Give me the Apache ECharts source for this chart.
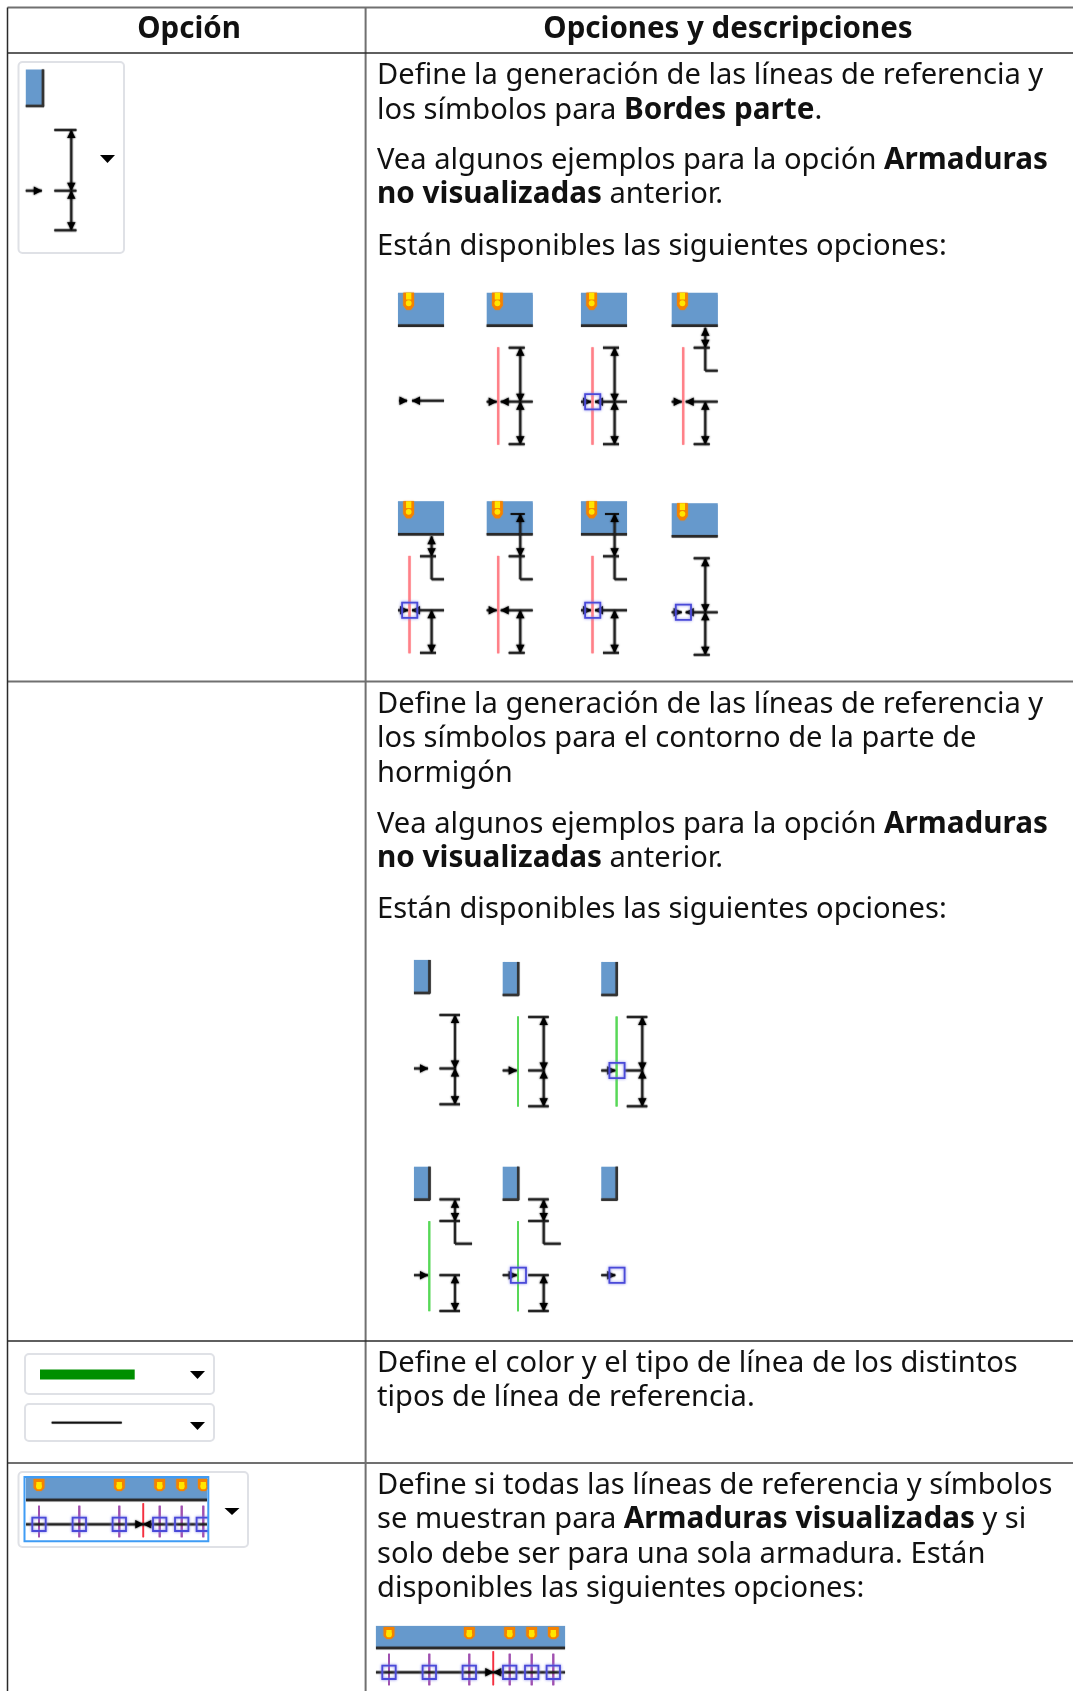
<!DOCTYPE html>
<html lang="es">
<head>
    <meta charset="UTF-8">
    <title>Opciones de líneas de referencia</title>
    <script src="https://cdn.jsdelivr.net/npm/echarts@6/dist/echarts.min.js"></script>
    <style>
        html, body { margin: 0; background: #fff; }
        #chart { width: 1073px; height: 1691px; }
    </style>
</head>
<body>
    <div id="chart"></div>
    <script>
        // texto de la tabla: [texto, x, y]
        const headerTexts = [['Opción', 189, 30], ['Opciones y descripciones', 728, 30]];
        const bodyTexts = [
            ['Define la generación de las líneas de referencia y', 75.5],
            ['los símbolos para {b|Bordes parte}.', 110.5],
            ['Vea algunos ejemplos para la opción {b|Armaduras}', 160.5],
            ['{b|no visualizadas} anterior.', 195],
            ['Están disponibles las siguientes opciones:', 246.5],
            ['Define la generación de las líneas de referencia y', 704.5],
            ['los símbolos para el contorno de la parte de', 739],
            ['hormigón', 773.5],
            ['Vea algunos ejemplos para la opción {b|Armaduras}', 824.5],
            ['{b|no visualizadas} anterior.', 859],
            ['Están disponibles las siguientes opciones:', 909.5],
            ['Define el color y el tipo de línea de los distintos', 1363.5],
            ['tipos de línea de referencia.', 1398],
            ['Define si todas las líneas de referencia y símbolos', 1485.5],
            ['se muestran para {b|Armaduras visualizadas} y si', 1520],
            ['solo debe ser para una sola armadura. Están', 1554.5],
            ['disponibles las siguientes opciones:', 1589]
        ];
        const darkRows = [53, 1341];
        const grayRows = [7.5, 681.5, 1463];
        const leftCol = 7.5;
        const splitCol = 365.6;

        // miniaturas: [izquierda, arriba, variante]
        const beamThumbs = [
            [398, 292.7, 'arrow'], [486.7, 292.7, 'ref'], [581, 292.7, 'refSquare'], [671.7, 292.7, 'upper'],
            [398, 501.3, 'upperSquare'], [486.7, 501.3, 'inner'], [581, 501.3, 'innerSquare'], [671.7, 503.3, 'square']
        ];
        const columnThumbs = [
            [414, 960, 'arrow'], [502.7, 962, 'ref'], [601.3, 962, 'refSquare'],
            [414, 1166.7, 'upper'], [502.7, 1166.7, 'upperSquare'], [601.3, 1166.7, 'squareOnly']
        ];
        // controles desplegables: [x1, y1, x2, y2]
        const widgetBoxes = [[18.5, 62, 124, 253], [25, 1354, 214, 1394], [25, 1404, 214, 1441], [18.5, 1472, 248, 1547]];
        const dropTriangles = [[107.5, 155, 163], [197.5, 1371, 1379], [197.5, 1422, 1430], [232, 1508, 1515]];
        // tiras de armaduras: [desplazamiento x, desplazamiento y, x final]
        const stripOrigins = [[0, 0, 207], [350, 148, 215]];
        const stripMarkers = [39, 119.3, 159.7, 181.7, 203.3];
        const stripSquares = [39, 79.3, 119.3, 159.7, 181.7, 203.3];

        const black = [], red = [], green = [], purple = [], thinBlack = [], stripRed = [], thick = [], edge = [];
        const heads = [], blue = [], squares = [], markers = [], smallMarkers = [], greenBars = [], strokeBoxes = [], masks = [];

        function headV(x, y, up) { heads.push([x, y, up ? 0 : 1]); }
        function headH(x, y, left) { heads.push([x, y, left ? 2 : 3]); }

        function fullDim(x, top, mid, bot, tickL, tickR) {
            black.push([x, top, x, bot], [tickL, top, tickR, top], [tickL, bot, tickR, bot]);
            headV(x, top, true); headV(x, mid, false); headV(x, mid, true); headV(x, bot, false);
        }
        function lowerDim(x, mid, bot, tickL, tickR) {
            black.push([x, mid, x, bot], [tickL, bot, tickR, bot]);
            headV(x, mid, true); headV(x, bot, false);
        }
        function square(cx, cy) { squares.push([cx - 7.6, cy - 7.6, cx + 7.6, cy + 7.6]); }

        function drawBeam(L, T, variant) {
            blue.push([L, T, L + 46, T + 32]);
            thick.push([L, T + 33, L + 46, T + 33]);
            markers.push([L + 10.7, T]);
            const mid = T + 109, bot = T + 151.5, dx = L + 33.6;
            if (variant === 'arrow') {
                black.push([L + 1, mid - 1, L + 9, mid - 1], [L + 14, mid - 1, L + 46, mid - 1]);
                headH(L + 9.5, mid - 1, false); headH(L + 14, mid - 1, true);
                return;
            }
            black.push([L, mid, L + 10, mid], [L + 14, mid, L + 46, mid]);
            headH(L + 10, mid, false); headH(L + 14, mid, true);
            if (variant !== 'square') red.push([L + 11.5, T + 54.6, L + 11.5, T + 152]);
            if (variant === 'refSquare' || variant === 'upperSquare' || variant === 'innerSquare' || variant === 'square') square(L + 11.7, mid);
            if (variant === 'ref' || variant === 'refSquare' || variant === 'square') {
                fullDim(dx, T + 55, mid, bot, L + 22, L + 38);
            } else {
                const inner = variant === 'inner' || variant === 'innerSquare';
                const top = inner ? T + 12.7 : T + 35;
                black.push([dx, top, dx, T + 78], [dx, T + 78, L + 46, T + 78], [L + 22, T + 55, L + 38, T + 55]);
                if (inner) thinBlack.push([L + 24, top, L + 38, top]);
                headV(dx, top, true); headV(dx, T + 55, false);
                lowerDim(dx, mid, bot, L + 22, L + 38);
            }
        }

        function columnStub(L, mid, tip) {
            black.push([L, mid, L + tip, mid]);
            headH(L + tip, mid, false);
        }
        function drawColumn(L, T, variant) {
            blue.push([L, T, L + 15, T + 32]);
            edge.push([L + 15.5, T, L + 15.5, T + 33.5], [L, T + 33, L + 16, T + 33]);
            const mid = T + 108.5, dx = L + 41, tl = L + 25.5, tr = L + 46;
            columnStub(L, mid, 14);
            if (variant === 'squareOnly') { square(L + 15.7, mid); return; }
            if (variant !== 'arrow') green.push([L + 15.3, T + 54.5, L + 15.3, T + 144.5]);
            if (variant === 'refSquare' || variant === 'upperSquare') square(L + 15.7, mid);
            if (variant === 'upper' || variant === 'upperSquare') {
                black.push([dx, T + 32.7, dx, T + 77], [dx, T + 77, L + 58, T + 77], [tl, T + 32.7, tr, T + 32.7], [tl, T + 54.3, tr, T + 54.3], [tl, mid, tr, mid]);
                headV(dx, T + 33, true); headV(dx, T + 54.3, false);
                lowerDim(dx, mid, T + 144.3, tl, tr);
            } else {
                black.push([variant === 'refSquare' ? L + 23 : tl, mid, dx, mid]);
                fullDim(dx, T + 55, mid, T + 144.3, tl, tr);
            }
        }

        function drawStrip(dx, dy, endX) {
            const x1 = 26 + dx, x2 = endX + dx;
            blue.push([x1, 1478 + dy, x2, 1499 + dy]);
            thick.push([x1, 1500 + dy, x2, 1500 + dy]);
            black.push([x1, 1524.3 + dy, x2, 1524.3 + dy]);
            stripMarkers.forEach(x => smallMarkers.push([x + dx, 1479 + dy]));
            stripSquares.forEach(x => {
                purple.push([x + dx, 1505.7 + dy, x + dx, 1537.3 + dy]);
                squares.push([x + dx - 6.7, 1517.6 + dy, x + dx + 6.7, 1531 + dy]);
            });
            stripRed.push([143.3 + dx, 1503.3 + dy, 143.3 + dx, 1537.3 + dy]);
            headH(143.3 + dx, 1524.3 + dy, false); headH(143.3 + dx, 1524.3 + dy, true);
        }

        beamThumbs.forEach(t => drawBeam(t[0], t[1], t[2]));
        columnThumbs.forEach(t => drawColumn(t[0], t[1], t[2]));

        // icono de la primera celda
        blue.push([25.8, 69.5, 42.5, 105]);
        edge.push([43, 69.5, 43, 106.5], [25.8, 106, 44, 106]);
        fullDim(71.3, 130, 190.7, 230.3, 54.4, 76.4);
        black.push([54.4, 190.7, 76.4, 190.7]);
        columnStub(25.8, 190.7, 16);

        // controles de color y tipo de línea
        greenBars.push([40, 1369.5, 134.7, 1379.5]);
        thinBlack.push([51.7, 1422.7, 121.7, 1422.7]);

        // el desplegable recorta la tira por la derecha
        strokeBoxes.push([24.5, 1477, 208.3, 1541.3]);
        masks.push([209, 1476, 216, 1543]);
        stripOrigins.forEach(o => drawStrip(o[0], o[1], o[2]));

        const darkRules = [], grayRules = [];
        darkRows.forEach(y => darkRules.push([leftCol, y, 1073, y]));
        grayRows.forEach(y => grayRules.push([leftCol, y, 1073, y]));
        darkRules.push([leftCol, 7.5, leftCol, 1691]);
        grayRules.push([splitCol, 7.5, splitCol, 1691]);

        function pts(api, i) {
            return [api.coord([api.value(i), api.value(i + 1)]), api.coord([api.value(i + 2), api.value(i + 3)])];
        }
        function segments(data, color, width, blur) {
            return {
                type: 'custom', coordinateSystem: 'cartesian2d', clip: false, silent: true, data,
                renderItem(params, api) {
                    const p = pts(api, 0);
                    return {
                        type: 'line',
                        shape: { x1: p[0][0], y1: p[0][1], x2: p[1][0], y2: p[1][1] },
                        style: { stroke: color, lineWidth: width, shadowBlur: blur, shadowColor: color }
                    };
                }
            };
        }
        function rects(data, style, r) {
            return {
                type: 'custom', coordinateSystem: 'cartesian2d', clip: false, silent: true, data,
                renderItem(params, api) {
                    const p = pts(api, 0);
                    return {
                        type: 'rect',
                        shape: { x: p[0][0], y: p[0][1], width: p[1][0] - p[0][0], height: p[1][1] - p[0][1], r: r || 0 },
                        style
                    };
                }
            };
        }
        const arrowSeries = {
            type: 'custom', coordinateSystem: 'cartesian2d', clip: false, silent: true, data: heads,
            renderItem(params, api) {
                const c = api.coord([api.value(0), api.value(1)]);
                const d = api.value(2), l = 8, w = 4.2;
                const points = d === 0 ? [[c[0], c[1]], [c[0] - w, c[1] + l], [c[0] + w, c[1] + l]]
                    : d === 1 ? [[c[0], c[1]], [c[0] - w, c[1] - l], [c[0] + w, c[1] - l]]
                    : d === 2 ? [[c[0], c[1]], [c[0] + l, c[1] - w], [c[0] + l, c[1] + w]]
                    : [[c[0], c[1]], [c[0] - l, c[1] - w], [c[0] - l, c[1] + w]];
                return { type: 'polygon', shape: { points }, style: { fill: '#000', shadowBlur: 2, shadowColor: '#000' } };
            }
        };
        const dropSeries = {
            type: 'custom', coordinateSystem: 'cartesian2d', clip: false, silent: true, data: dropTriangles,
            renderItem(params, api) {
                const a = api.coord([api.value(0), api.value(1)]);
                const b = api.coord([api.value(0), api.value(2)]);
                return { type: 'polygon', shape: { points: [[a[0] - 7.5, a[1]], [a[0] + 7.5, a[1]], [b[0], b[1]]] }, style: { fill: '#000' } };
            }
        };
        function markerSeries(data, w, h, core) {
            return {
                type: 'custom', coordinateSystem: 'cartesian2d', clip: false, silent: true, data,
                renderItem(params, api) {
                    const c = api.coord([api.value(0), api.value(1)]);
                    const x = c[0], y = c[1];
                    return {
                        type: 'group',
                        children: [
                            { type: 'polygon', shape: { points: [[x - w, y], [x + w, y], [x + w, y + h * 0.75], [x + w * 0.4, y + h], [x - w * 0.4, y + h], [x - w, y + h * 0.75]] }, style: { fill: '#f58200', shadowBlur: 1.5, shadowColor: '#f58200' } },
                            { type: 'rect', shape: { x: x - w * 0.5, y: y + (core ? h * 0.25 : 0), width: w, height: h * 0.4 }, style: { fill: '#ffe600' } },
                            { type: 'circle', shape: { cx: x, cy: y + h * 0.62, r: w * 0.55 }, style: { fill: '#ffe600' } }
                        ]
                    };
                }
            };
        }
        const FONT = '"Noto Sans"';
        const SIZE = 29.1;
        const BOLD_SIZE = 29.7;
        const textSeries = (data, weight, anchor, size) => ({
            type: 'custom', coordinateSystem: 'cartesian2d', clip: false, silent: true, data,
            renderItem(params, api) {
                const row = data[params.dataIndex];
                const c = api.coord(anchor === 'center' ? [row[1], row[2]] : [377, row[1]]);
                return {
                    type: 'text',
                    style: {
                        text: row[0], x: c[0], y: c[1], fill: '#111',
                        font: weight + ' ' + size + 'px ' + FONT,
                        align: anchor, verticalAlign: 'middle',
                        rich: { b: { font: '700 ' + BOLD_SIZE + 'px ' + FONT, fill: '#111' } }
                    }
                };
            }
        });
        const textData = list => list.map(r => r.slice());

        const chart = echarts.init(document.getElementById('chart'));
        chart.setOption({
            animation: false,
            backgroundColor: '#fff',
            grid: { left: 0, right: 0, top: 0, bottom: 0 },
            xAxis: { type: 'value', min: 0, max: 1073, show: false },
            yAxis: { type: 'value', min: 0, max: 1691, inverse: true, show: false },
            series: [
                segments(grayRules, '#707070', 2, 0),
                segments(darkRules, '#2a2a2a', 1.5, 0),
                rects(widgetBoxes, { fill: '#fff', stroke: '#dfe1e6', lineWidth: 2 }, 4),
                rects(blue, { fill: '#6699cc', shadowBlur: 1, shadowColor: '#99bbdd' }),
                rects(greenBars, { fill: '#008f00' }),
                segments(thick, '#2a2a2a', 2.6, 1),
                segments(edge, '#333', 2.4, 1),
                markerSeries(markers, 5.3, 17, false),
                markerSeries(smallMarkers, 5.3, 12, true),
                segments(red, '#ff8088', 2.2, 1),
                segments(stripRed, '#f53040', 1.6, 0.5),
                segments(green, '#58d858', 2, 0.5),
                segments(purple, '#a050b0', 2, 0.5),
                segments(black, 'rgba(0,0,0,0.25)', 4, 0),
                segments(black, '#222', 1.8, 1),
                segments(thinBlack, '#111', 1.8, 1),
                arrowSeries,
                rects(squares, { fill: 'none', stroke: '#4a4ad8', lineWidth: 1.8, shadowBlur: 3, shadowColor: '#8080e8' }),
                rects(masks, { fill: '#fff' }),
                rects(strokeBoxes, { fill: 'none', stroke: '#3f9cf5', lineWidth: 2 }),
                dropSeries,
                textSeries(textData(headerTexts), 700, 'center', 29.5),
                textSeries(textData(bodyTexts), 400, 'left', SIZE)
            ]
        });
    </script>
</body>
</html>
